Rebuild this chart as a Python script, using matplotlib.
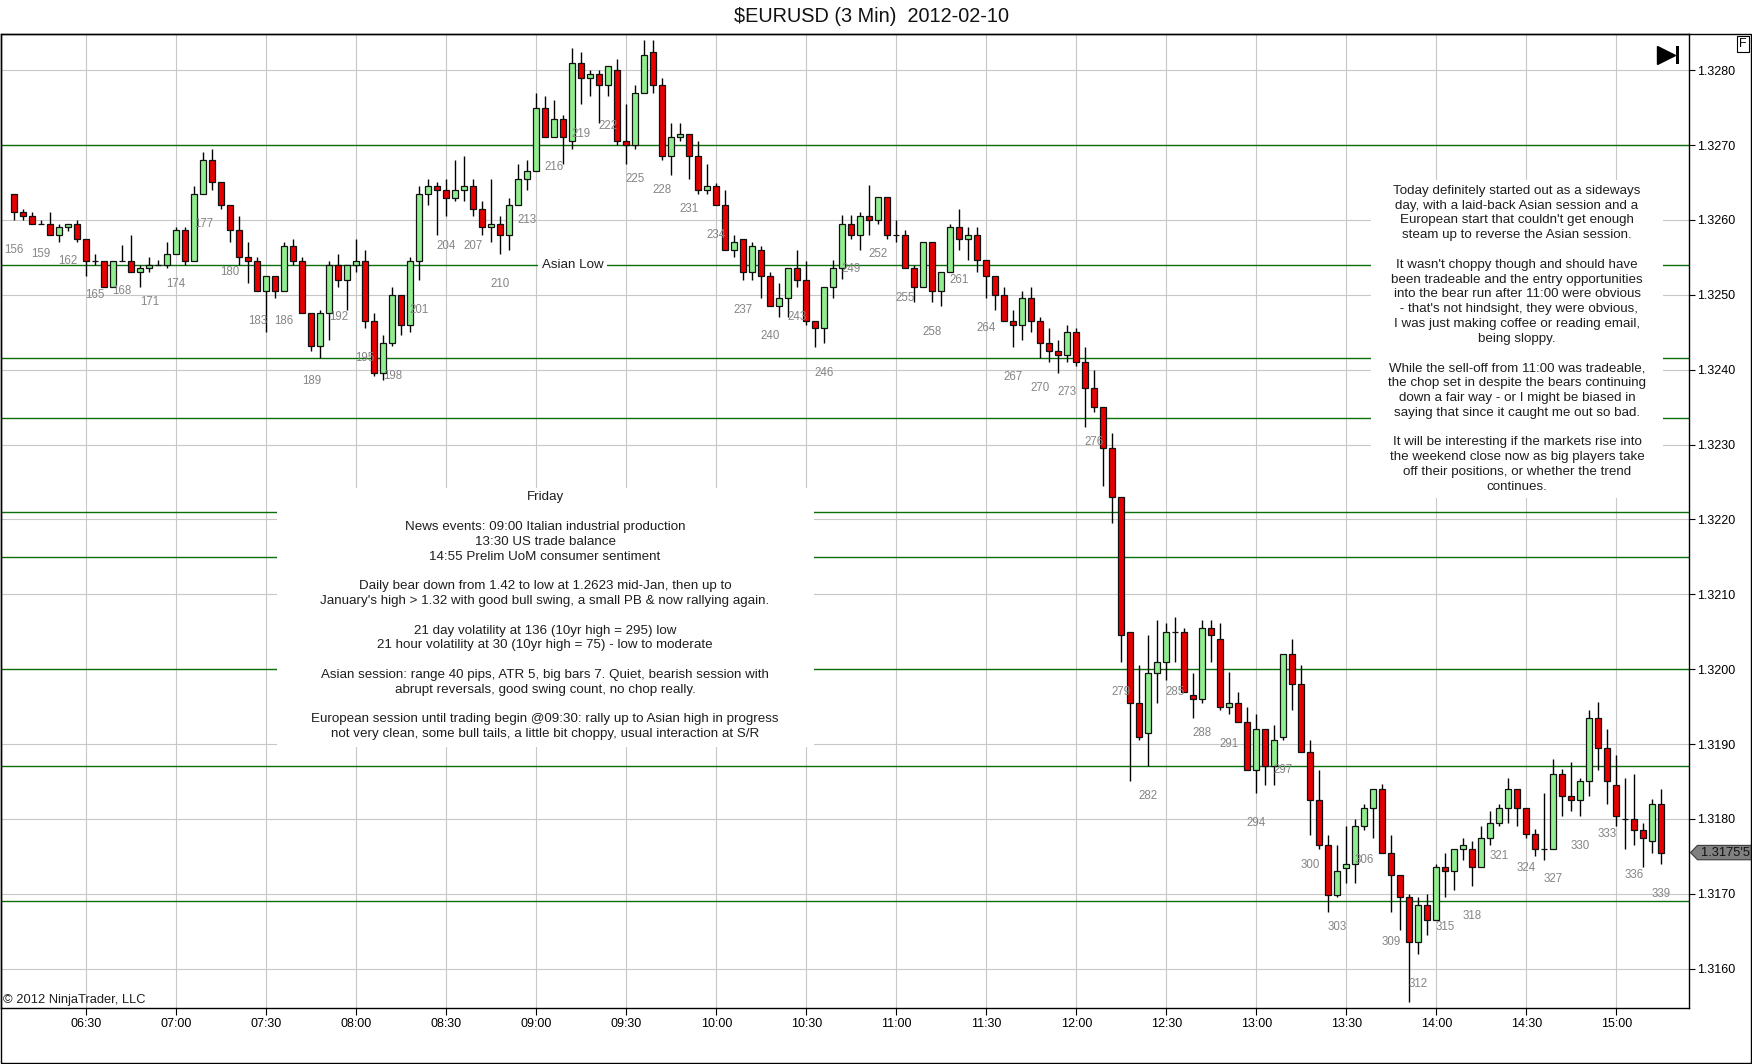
import matplotlib
matplotlib.use('Agg')
import matplotlib.pyplot as plt
from matplotlib.patches import Rectangle, Polygon
from matplotlib.transforms import IdentityTransform

plt.rcParams['font.family'] = ['Liberation Sans', 'DejaVu Sans']

# bar numbers (3 min bars), OHLC
bars = list(range(156, 340))

opens = [
    1.32635, 1.32611, 1.32605, 1.32595, 1.32595, 1.32580, 1.32591, 1.32595, 1.32575, 1.32545,
    1.32545, 1.32511, 1.32545, 1.32545, 1.32531, 1.32536, 1.32540, 1.32540, 1.32555, 1.32586,
    1.32545, 1.32635, 1.32680, 1.32651, 1.32620, 1.32586, 1.32551, 1.32545, 1.32505, 1.32525,
    1.32505, 1.32565, 1.32545, 1.32476, 1.32431, 1.32476, 1.32540, 1.32520, 1.32540, 1.32545,
    1.32465, 1.32396, 1.32436, 1.32500, 1.32460, 1.32545, 1.32635, 1.32645, 1.32640, 1.32630,
    1.32640, 1.32645, 1.32615, 1.32591, 1.32595, 1.32580, 1.32620, 1.32655, 1.32665, 1.32749,
    1.32711, 1.32735, 1.32706, 1.32809, 1.32789, 1.32795, 1.32780, 1.32800, 1.32705, 1.32700,
    1.32769, 1.32825, 1.32780, 1.32685, 1.32711, 1.32715, 1.32685, 1.32640, 1.32645, 1.32620,
    1.32560, 1.32575, 1.32531, 1.32560, 1.32525, 1.32485, 1.32496, 1.32536, 1.32520, 1.32465,
    1.32456, 1.32511, 1.32536, 1.32595, 1.32580, 1.32605, 1.32600, 1.32631, 1.32580, 1.32580,
    1.32536, 1.32511, 1.32571, 1.32505, 1.32531, 1.32591, 1.32575, 1.32580, 1.32546, 1.32525,
    1.32500, 1.32465, 1.32460, 1.32496, 1.32465, 1.32436, 1.32425, 1.32420, 1.32451, 1.32410,
    1.32375, 1.32350, 1.32295, 1.32230, 1.32049, 1.31955, 1.31915, 1.31995, 1.32009, 1.32049,
    1.32049, 1.31965, 1.31960, 1.32055, 1.32040, 1.31949, 1.31955, 1.31930, 1.31865, 1.31920,
    1.31871, 1.31910, 1.32020, 1.31980, 1.31890, 1.31825, 1.31765, 1.31699, 1.31735, 1.31740,
    1.31790, 1.31814, 1.31840, 1.31754, 1.31725, 1.31696, 1.31636, 1.31685, 1.31665, 1.31736,
    1.31730, 1.31760, 1.31760, 1.31736, 1.31775, 1.31795, 1.31815, 1.31840, 1.31815, 1.31780,
    1.31760, 1.31760, 1.31860, 1.31831, 1.31825, 1.31851, 1.31935, 1.31895, 1.31845, 1.31800,
    1.31800, 1.31785, 1.31770, 1.31820,
]
highs = [
    1.32635, 1.32615, 1.32611, 1.32600, 1.32611, 1.32595, 1.32595, 1.32600, 1.32575, 1.32555,
    1.32545, 1.32545, 1.32566, 1.32580, 1.32540, 1.32551, 1.32546, 1.32571, 1.32591, 1.32591,
    1.32646, 1.32691, 1.32695, 1.32651, 1.32620, 1.32605, 1.32571, 1.32551, 1.32525, 1.32525,
    1.32571, 1.32575, 1.32551, 1.32476, 1.32480, 1.32545, 1.32555, 1.32540, 1.32575, 1.32560,
    1.32476, 1.32446, 1.32511, 1.32500, 1.32551, 1.32645, 1.32655, 1.32651, 1.32655, 1.32680,
    1.32685, 1.32655, 1.32625, 1.32655, 1.32605, 1.32630, 1.32675, 1.32680, 1.32770, 1.32766,
    1.32760, 1.32740, 1.32830, 1.32825, 1.32800, 1.32800, 1.32805, 1.32815, 1.32755, 1.32780,
    1.32840, 1.32840, 1.32789, 1.32730, 1.32730, 1.32715, 1.32706, 1.32675, 1.32650, 1.32640,
    1.32580, 1.32575, 1.32571, 1.32565, 1.32531, 1.32516, 1.32536, 1.32560, 1.32545, 1.32465,
    1.32511, 1.32546, 1.32606, 1.32606, 1.32611, 1.32647, 1.32631, 1.32631, 1.32600, 1.32586,
    1.32540, 1.32571, 1.32571, 1.32531, 1.32595, 1.32615, 1.32591, 1.32591, 1.32546, 1.32525,
    1.32511, 1.32480, 1.32505, 1.32511, 1.32471, 1.32456, 1.32440, 1.32460, 1.32456, 1.32430,
    1.32400, 1.32350, 1.32315, 1.32230, 1.32049, 1.32005, 1.32045, 1.32066, 1.32061, 1.32070,
    1.32055, 1.31995, 1.32066, 1.32066, 1.32061, 1.31996, 1.31970, 1.31949, 1.31940, 1.31920,
    1.31925, 1.32020, 1.32040, 1.32006, 1.31905, 1.31865, 1.31779, 1.31765, 1.31790, 1.31800,
    1.31820, 1.31840, 1.31846, 1.31779, 1.31725, 1.31700, 1.31696, 1.31700, 1.31740, 1.31755,
    1.31760, 1.31775, 1.31771, 1.31791, 1.31811, 1.31820, 1.31855, 1.31840, 1.31815, 1.31786,
    1.31835, 1.31880, 1.31866, 1.31876, 1.31855, 1.31946, 1.31956, 1.31920, 1.31886, 1.31855,
    1.31860, 1.31795, 1.31826, 1.31840,
]
lows = [
    1.32600, 1.32600, 1.32595, 1.32595, 1.32580, 1.32570, 1.32585, 1.32570, 1.32525, 1.32540,
    1.32511, 1.32511, 1.32545, 1.32531, 1.32511, 1.32531, 1.32540, 1.32536, 1.32555, 1.32540,
    1.32545, 1.32635, 1.32640, 1.32614, 1.32570, 1.32540, 1.32516, 1.32505, 1.32450, 1.32496,
    1.32505, 1.32540, 1.32476, 1.32425, 1.32416, 1.32440, 1.32511, 1.32480, 1.32531, 1.32456,
    1.32391, 1.32386, 1.32431, 1.32446, 1.32450, 1.32520, 1.32620, 1.32580, 1.32605, 1.32625,
    1.32625, 1.32605, 1.32580, 1.32570, 1.32555, 1.32560, 1.32620, 1.32640, 1.32665, 1.32711,
    1.32711, 1.32675, 1.32695, 1.32755, 1.32765, 1.32730, 1.32765, 1.32700, 1.32675, 1.32695,
    1.32769, 1.32769, 1.32680, 1.32660, 1.32705, 1.32655, 1.32635, 1.32635, 1.32620, 1.32560,
    1.32550, 1.32520, 1.32520, 1.32496, 1.32485, 1.32471, 1.32471, 1.32511, 1.32460, 1.32430,
    1.32436, 1.32496, 1.32521, 1.32575, 1.32560, 1.32580, 1.32595, 1.32575, 1.32570, 1.32536,
    1.32491, 1.32511, 1.32491, 1.32485, 1.32531, 1.32560, 1.32546, 1.32531, 1.32496, 1.32480,
    1.32465, 1.32430, 1.32440, 1.32451, 1.32416, 1.32410, 1.32396, 1.32410, 1.32405, 1.32324,
    1.32344, 1.32244, 1.32195, 1.32009, 1.31850, 1.31906, 1.31871, 1.31955, 1.31985, 1.32009,
    1.31969, 1.31935, 1.31955, 1.32009, 1.31945, 1.31940, 1.31930, 1.31865, 1.31834, 1.31845,
    1.31845, 1.31905, 1.31945, 1.31890, 1.31779, 1.31760, 1.31675, 1.31695, 1.31715, 1.31715,
    1.31785, 1.31774, 1.31754, 1.31675, 1.31652, 1.31556, 1.31620, 1.31645, 1.31665, 1.31696,
    1.31705, 1.31745, 1.31710, 1.31736, 1.31765, 1.31790, 1.31795, 1.31790, 1.31775, 1.31750,
    1.31745, 1.31760, 1.31804, 1.31810, 1.31804, 1.31830, 1.31865, 1.31820, 1.31790, 1.31760,
    1.31765, 1.31736, 1.31755, 1.31740,
]
closes = [
    1.32611, 1.32605, 1.32595, 1.32595, 1.32580, 1.32591, 1.32595, 1.32575, 1.32545, 1.32545,
    1.32511, 1.32545, 1.32545, 1.32531, 1.32536, 1.32540, 1.32540, 1.32555, 1.32586, 1.32545,
    1.32635, 1.32680, 1.32651, 1.32620, 1.32586, 1.32551, 1.32545, 1.32505, 1.32525, 1.32505,
    1.32565, 1.32545, 1.32476, 1.32431, 1.32476, 1.32540, 1.32520, 1.32540, 1.32545, 1.32465,
    1.32396, 1.32436, 1.32500, 1.32460, 1.32545, 1.32635, 1.32645, 1.32640, 1.32630, 1.32640,
    1.32645, 1.32615, 1.32591, 1.32595, 1.32580, 1.32620, 1.32655, 1.32665, 1.32749, 1.32711,
    1.32735, 1.32711, 1.32809, 1.32789, 1.32795, 1.32780, 1.32805, 1.32706, 1.32700, 1.32769,
    1.32820, 1.32780, 1.32685, 1.32711, 1.32715, 1.32685, 1.32640, 1.32645, 1.32620, 1.32560,
    1.32571, 1.32531, 1.32565, 1.32525, 1.32485, 1.32496, 1.32536, 1.32520, 1.32465, 1.32456,
    1.32511, 1.32536, 1.32595, 1.32580, 1.32605, 1.32600, 1.32631, 1.32580, 1.32580, 1.32536,
    1.32511, 1.32571, 1.32505, 1.32531, 1.32591, 1.32575, 1.32580, 1.32546, 1.32525, 1.32500,
    1.32465, 1.32460, 1.32496, 1.32465, 1.32436, 1.32425, 1.32420, 1.32451, 1.32410, 1.32375,
    1.32350, 1.32295, 1.32230, 1.32045, 1.31955, 1.31910, 1.31995, 1.32009, 1.32049, 1.32049,
    1.31969, 1.31960, 1.32055, 1.32045, 1.31949, 1.31955, 1.31930, 1.31865, 1.31920, 1.31871,
    1.31905, 1.32020, 1.31980, 1.31890, 1.31825, 1.31765, 1.31699, 1.31730, 1.31740, 1.31790,
    1.31814, 1.31840, 1.31754, 1.31725, 1.31696, 1.31636, 1.31685, 1.31665, 1.31736, 1.31730,
    1.31760, 1.31765, 1.31736, 1.31775, 1.31795, 1.31815, 1.31840, 1.31815, 1.31780, 1.31760,
    1.31760, 1.31860, 1.31830, 1.31825, 1.31851, 1.31935, 1.31895, 1.31850, 1.31804, 1.31800,
    1.31785, 1.31775, 1.31820, 1.31755,
]

# drawn support / resistance levels
sr_levels = [1.3270, 1.3254, 1.32415, 1.32335, 1.3221, 1.3215, 1.3200, 1.3187, 1.3169]

time_ticks = [164, 174, 184, 194, 204, 214, 224, 234, 244, 254, 264, 274, 284, 294, 304, 314, 324, 334]
time_labels = ['06:30', '07:00', '07:30', '08:00', '08:30', '09:00', '09:30', '10:00', '10:30',
               '11:00', '11:30', '12:00', '12:30', '13:00', '13:30', '14:00', '14:30', '15:00']
price_ticks = [1.3160, 1.3170, 1.3180, 1.3190, 1.3200, 1.3210, 1.3220, 1.3230, 1.3240,
               1.3250, 1.3260, 1.3270, 1.3280]

friday_text = ("Friday\n\n"
               "News events: 09:00 Italian industrial production\n"
               "13:30 US trade balance\n"
               "14:55 Prelim UoM consumer sentiment\n\n"
               "Daily bear down from 1.42 to low at 1.2623 mid-Jan, then up to\n"
               "January's high > 1.32 with good bull swing, a small PB & now rallying again.\n\n"
               "21 day volatility at 136 (10yr high = 295) low\n"
               "21 hour volatility at 30 (10yr high = 75) - low to moderate\n\n"
               "Asian session: range 40 pips, ATR 5, big bars 7. Quiet, bearish session with\n"
               "abrupt reversals, good swing count, no chop really.\n\n"
               "European session until trading begin @09:30: rally up to Asian high in progress\n"
               "not very clean, some bull tails, a little bit choppy, usual interaction at S/R")

review_text = ("Today definitely started out as a sideways\n"
               "day, with a laid-back Asian session and a\n"
               "European start that couldn't get enough\n"
               "steam up to reverse the Asian session.\n\n"
               "It wasn't choppy though and should have\n"
               "been tradeable and the entry opportunities\n"
               "into the bear run after 11:00 were obvious\n"
               " - that's not hindsight, they were obvious,\n"
               "I was just making coffee or reading email,\n"
               "being sloppy.\n\n"
               "While the sell-off from 11:00 was tradeable,\n"
               "the chop set in despite the bears continuing\n"
               "down a fair way - or I might be biased in\n"
               "saying that since it caught me out so bad.\n\n"
               "It will be interesting if the markets rise into\n"
               "the weekend close now as big players take\n"
               "off their positions, or whether the trend\n"
               "continues.")

W, H = 1752, 1064
fig = plt.figure(figsize=(W / 100, H / 100), dpi=100)
ax = fig.add_axes([0.5 / W, 55.7 / H, 1688 / W, 974 / H])
ax.set_xlim(154.47, 342.02)
ax.set_ylim(1.31547, 1.32848)

# candles
up_col, dn_col = '#90ee90', '#e60000'
body_bot = [min(o, c) for o, c in zip(opens, closes)]
body_h = [abs(c - o) for o, c in zip(opens, closes)]
cols = [dn_col if c < o else up_col for o, c in zip(opens, closes)]
ax.vlines(bars, lows, highs, colors='black', lw=1.0, zorder=3)
ax.bar(bars, body_h, bottom=body_bot, width=0.68, color=cols,
       edgecolor='#111111', linewidth=0.9, zorder=4)

for i in range(0, len(bars), 3):
    ax.annotate(str(bars[i]), (bars[i], lows[i]), xytext=(0, -30),
                textcoords='offset pixels', ha='center', va='center',
                fontsize=8.3, color='#858585', zorder=6)

for lvl in sr_levels:
    ax.axhline(lvl, color='#0b700b', lw=1.0, zorder=1.5)

# grid + axes
ax.set_axisbelow(True)
ax.set_xticks(time_ticks)
ax.set_xticklabels(time_labels)
ax.set_yticks(price_ticks)
ax.set_yticklabels([f'{p:.4f}' for p in price_ticks])
ax.grid(True, color='#c8c8c8', lw=0.8)
ax.yaxis.tick_right()
ax.tick_params(axis='y', direction='out', length=4.5, width=0.8, pad=2, labelsize=9)
ax.tick_params(axis='x', direction='out', length=5, width=0.8, pad=2, labelsize=9)
for sp in ax.spines.values():
    sp.set_linewidth(1.0)

# white note boxes hide grid and levels
ax.add_patch(Rectangle((185.2, 1.31896), 244.86 - 185.2, 1.32242 - 1.31896,
                       fc='white', ec='none', zorder=2))
ax.add_patch(Rectangle((306.77, 1.32229), 339.19 - 306.77, 1.32654 - 1.32229,
                       fc='white', ec='none', zorder=2))
ax.text(214.97, 1.320713, friday_text, ha='center', va='center', ma='center',
        fontsize=9.6, color='#1e1e1e', linespacing=1.31, zorder=5)
ax.text(322.97, 1.324414, review_text, ha='center', va='center', ma='center',
        fontsize=9.6, color='#1e1e1e', linespacing=1.31, zorder=5)
ax.text(218.04, 1.3254, 'Asian Low', ha='center', va='center', fontsize=9.6,
        color='#1e1e1e', zorder=5,
        bbox=dict(boxstyle='square,pad=0.3', fc='white', ec='none'))

ax.text(0.0015, 0.0085, '\u00a9 2012 NinjaTrader, LLC', transform=ax.transAxes,
        ha='left', va='center', fontsize=9.3, color='#1e1e1e', zorder=6)

# play-to-end icon
ax.plot([0.9864], [0.9787], marker='>', ms=13, color='black', mec='black',
        transform=ax.transAxes, clip_on=False, zorder=7)
ax.add_patch(Rectangle((0.9923, 0.9695), 0.0018, 0.0185, transform=ax.transAxes,
                       fc='black', ec='none', clip_on=False, zorder=7))

# last price marker
last = closes[-1]
x0, y0 = ax.transData.transform((ax.get_xlim()[1], last))
verts = [(x0 + 2, y0), (x0 + 9, y0 + 7.2), (x0 + 63, y0 + 7.2),
         (x0 + 63, y0 - 7.2), (x0 + 9, y0 - 7.2)]
fig.add_artist(Polygon(verts, closed=True, transform=IdentityTransform(),
                       fc='#808080', ec='#3a3a3a', lw=0.8))
lbl = f'{last:.5f}'
fig.text((x0 + 37) / W, y0 / H, lbl[:-1] + "'" + lbl[-1], ha='center', va='center',
         fontsize=9.3, color='#111111')

# outer frame, F box, title
fig.add_artist(Rectangle((0.8 / W, 1.0 / H), 1750.4 / W, 1028.7 / H,
                         transform=fig.transFigure, fill=False, ec='black', lw=1.0))
fig.text(1743 / W, 1 - 44 / H, 'F', ha='center', va='center', fontsize=9,
         bbox=dict(boxstyle='square,pad=0.15', fc='white', ec='black', lw=0.8))
fig.text(871 / W, 1 - 16 / H, '$EURUSD (3 Min)  2012-02-10', ha='center',
         va='center', fontsize=14.3, color='#111111')

fig.savefig('out.png', dpi=100)
